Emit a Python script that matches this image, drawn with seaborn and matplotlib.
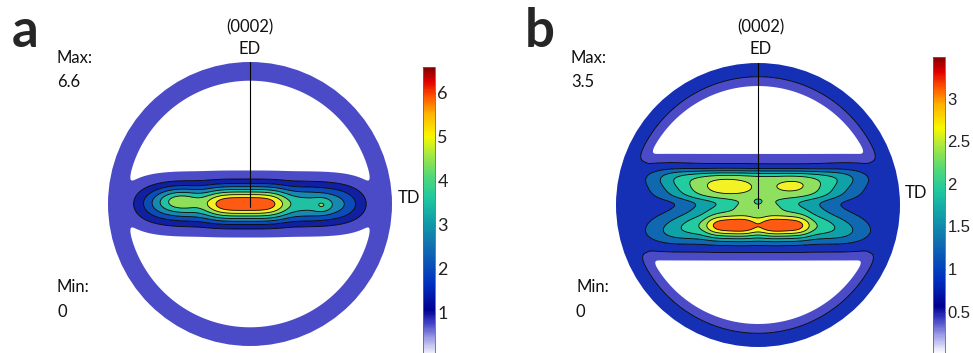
import numpy as np
import matplotlib
matplotlib.use("Agg")
import matplotlib.pyplot as plt
import seaborn as sns
from matplotlib.patches import Circle
from matplotlib.colors import LinearSegmentedColormap, Normalize
from matplotlib.cm import ScalarMappable

# ---------------- data ----------------
# texture components: centre (x, y) in unit pole-figure coords, peak intensity,
# spread in x / y and shape exponents (x, y)
a_x0 = [0.00, -0.03, -0.50, 0.51]
a_y0 = [0.00, 0.00, 0.03, -0.01]
a_amp = [3.8, 2.8, 1.3, 0.75]
a_sx = [0.78, 0.27, 0.15, 0.06]
a_sy = [0.14, 0.11, 0.08, 0.05]
a_px = [6, 4, 2, 2]
a_py = [2, 2, 2, 2]
a_ring_r = [0.875]
a_ring_amp = [0.6]
a_levels = [0.25, 1.0, 1.8, 2.6, 3.4, 4.2, 5.0, 5.8, 50]
a_fill = ["#4b4bc8", "#1020a0", "#0c4cb8", "#1888b0", "#20c0a4", "#8ee05a", "#f2f226", "#ff5a14"]
a_ticks = [1, 2, 3, 4, 5, 6]
a_max, a_min = "6.6", "0"
a_vmax = 6.6

b_x0 = [0.00, -0.01, 0.00, 0.00, 0.00, -0.24, 0.27, -0.19, 0.19, 0.00, -0.62, 0.62, -0.62, 0.62]
b_y0 = [-0.015, 0.14, -0.145, 0.00, 0.00, 0.14, 0.14, -0.145, -0.145, 0.02, 0.19, 0.19, -0.21, -0.21]
b_amp = [0.75, 1.45, 1.95, 0.7, 0.6, 0.6, 0.5, 0.75, 0.75, -0.25, 0.3, 0.3, 0.3, 0.3]
b_sx = [1.5, 0.634, 0.59, 0.5, 0.2, 0.26, 0.2, 0.17, 0.17, 0.04, 0.18, 0.18, 0.18, 0.18]
b_sy = [0.38, 0.105, 0.105, 0.07, 0.05, 0.08, 0.07, 0.08, 0.08, 0.035, 0.08, 0.08, 0.08, 0.08]
b_px = [8, 4, 3, 4, 2, 2, 2, 4, 4, 2, 2, 2, 2, 2]
b_py = [6, 4, 2, 2, 2, 2, 2, 2, 2, 2, 2, 2, 2, 2]
b_ring_r = [0.825, 0.90]
b_ring_amp = [0.42, 0.33]
b_levels = [0.3, 0.6, 1.0, 1.4, 1.8, 2.2, 2.6, 3.0, 50]
b_fill = ["#4b4bc8", "#1530b4", "#1068b0", "#10a0a8", "#22cca0", "#90e060", "#f2f226", "#ff5a14"]
b_ticks = [0.5, 1, 1.5, 2, 2.5, 3]
b_max, b_min = "3.5", "0"
b_vmax = 3.5

cbar_nodes = [0.0, 0.06, 0.12, 0.16, 0.25, 0.38, 0.47, 0.55, 0.62, 0.70, 0.76, 0.84, 0.90, 0.95, 1.0]
cbar_colors = ["#ffffff", "#a0a0e8", "#3838c0", "#000090", "#0030c0", "#1070b0", "#10a0a8",
               "#20c8a0", "#50d878", "#a8e840", "#f8f800", "#ffb000", "#ff5000", "#e00000", "#800000"]

# ---------------- drawing ----------------
sns.set_theme(style="white")
plt.rcParams["font.family"] = ["Lato", "DejaVu Sans"]

W, H = 973, 353
fig = plt.figure(figsize=(W / 100, H / 100), dpi=100)
fig.patch.set_facecolor("white")


def fx(px):
    return px / W


def fy(py):
    return 1 - py / H


cmap = LinearSegmentedColormap.from_list("pf", list(zip(cbar_nodes, cbar_colors)))

g = np.linspace(-1.02, 1.02, 601)
X, Y = np.meshgrid(g, g)
R = np.hypot(X, Y)


def field(x0, y0, amp, sx, sy, px, py, ring_r, ring_amp, k, soft):
    ring = np.zeros_like(X)
    for r0, a in zip(ring_r, ring_amp):
        ring += a / (1 + np.exp(-(R - r0) / soft))
    band = np.zeros_like(X)
    for c in zip(x0, y0, amp, sx, sy, px, py):
        band += c[2] * np.exp(-(np.abs(X - c[0]) / c[3]) ** c[5] - (np.abs(Y - c[1]) / c[4]) ** c[6])
    band = np.clip(band, 0, None)
    return (ring ** k + band ** k) ** (1.0 / k)


def panel(cx, cy, rp, F, levels, fills):
    ax = fig.add_axes([fx(cx - rp), fy(cy + rp), 2 * rp / W, 2 * rp / H])
    ax.set_xlim(-1, 1)
    ax.set_ylim(-1, 1)
    ax.axis("off")
    cf = ax.contourf(X, Y, F, levels=levels, colors=fills, antialiased=True)
    cl = ax.contour(X, Y, F, levels=levels[1:-1], colors="black", linewidths=0.6)
    circ = Circle((0, 0), 1, transform=ax.transData)
    cf.set_clip_path(circ)
    cl.set_clip_path(circ)
    ax.plot([0, 0], [1.0, -0.02], color="black", lw=0.8)
    return ax


def colorbar(x, top, bottom, vmax, ticks, fam, size):
    cax = fig.add_axes([fx(x), fy(bottom), 11.5 / W, (bottom - top) / H])
    cb = fig.colorbar(ScalarMappable(norm=Normalize(0, vmax), cmap=cmap), cax=cax, ticks=ticks)
    cb.outline.set_linewidth(0.6)
    cb.outline.set_edgecolor("#666666")
    cax.tick_params(axis="y", which="major", direction="in", length=3, width=0.8,
                    color="#333333", labelcolor="#222222", labelsize=size, pad=2)
    cax.minorticks_off()
    cax.set_yticklabels([("%g" % t) for t in ticks], family=fam)
    return cb


# panel a
Fa = field(a_x0, a_y0, a_amp, a_sx, a_sy, a_px, a_py, a_ring_r, a_ring_amp, 2, 0.02)
panel(250, 204, 142, Fa, a_levels, a_fill)
colorbar(423, 66.6, 356.6, a_vmax, a_ticks, ["Lato", "DejaVu Sans"], 13)

# panel b
Fb = field(b_x0, b_y0, b_amp, b_sx, b_sy, b_px, b_py, b_ring_r, b_ring_amp, 3, 0.015)
panel(758, 205, 142, Fb, b_levels, b_fill)
colorbar(933, 56.5, 354, b_vmax, b_ticks, ["Liberation Sans", "DejaVu Sans"], 12)

# texts
txt = dict(fontsize=12, color="#111111")
fig.text(fx(12), fy(47), "a", fontsize=38, fontweight="bold", va="baseline", ha="left")
fig.text(fx(525), fy(47), "b", fontsize=38, fontweight="bold", va="baseline", ha="left")
for cxp, tdx, tdy, mx, mnx, mxv, mnv in [(250, 398, 198, 57, 57, a_max, a_min),
                                          (761, 905, 193, 571, 576, b_max, b_min)]:
    fig.text(fx(cxp), fy(27), "(0002)", ha="center", va="center", **txt)
    fig.text(fx(cxp), fy(49), "ED", ha="center", va="center", **txt)
    fig.text(fx(tdx), fy(tdy), "TD", ha="left", va="center", **txt)
    fig.text(fx(mx), fy(58), "Max:", ha="left", va="center", **txt)
    fig.text(fx(mx), fy(82), mxv, ha="left", va="center", **txt)
    fig.text(fx(mnx), fy(287), "Min:", ha="left", va="center", **txt)
    fig.text(fx(mnx), fy(312), mnv, ha="left", va="center", **txt)

fig.savefig("out.png", dpi=100, facecolor="white")
